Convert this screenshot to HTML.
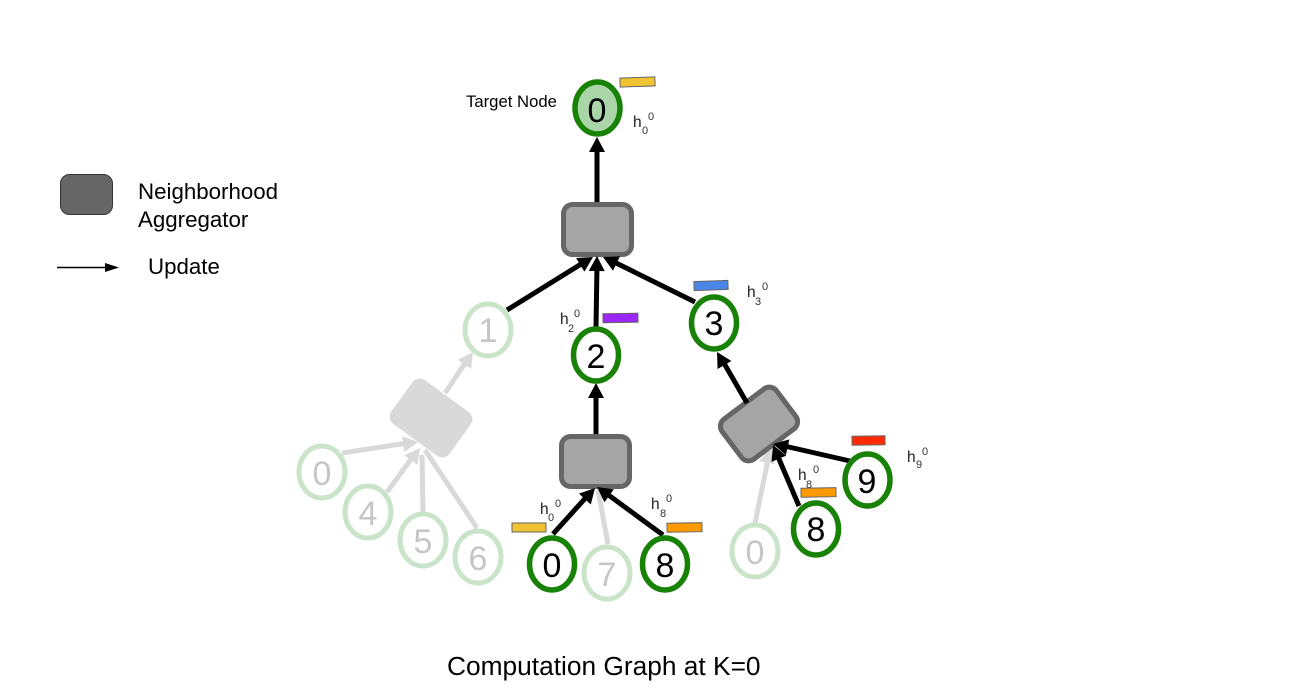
<!DOCTYPE html>
<html>
<head>
<meta charset="utf-8">
<style>
html,body{margin:0;padding:0;background:#fff;width:1289px;height:698px;overflow:hidden}
svg{display:block}
text{font-family:"Liberation Sans",sans-serif}
.n{font-size:34px;text-anchor:middle;fill:#000}
.f{font-size:34px;text-anchor:middle;fill:#c6c6c6}
.h{font-size:15.500px;fill:#222}
.s{font-size:11px;fill:#333}
</style>
</head>
<body>
<svg width="1289" height="698" viewBox="0 0 1289 698" xmlns="http://www.w3.org/2000/svg">
<defs>
<g id="ah"><polygon points="0,0 -15,8 -15,-8"/></g>
</defs>

<!-- faded edges -->
<g stroke="#d9d9d9" stroke-width="5" fill="none">
<line x1="445" y1="393" x2="470" y2="356"/>
<line x1="342" y1="453" x2="414" y2="442"/>
<line x1="387" y1="492" x2="417" y2="451"/>
<line x1="423" y1="512" x2="422" y2="455"/>
<line x1="477" y1="528" x2="425" y2="450"/>
<line x1="608" y1="544" x2="598" y2="490"/>
<line x1="755" y1="523" x2="770" y2="450"/>
</g>
<g fill="#d9d9d9">
<use href="#ah" transform="translate(473,352) rotate(-55.600)"/>
<use href="#ah" transform="translate(418,442) rotate(-8)"/>
<use href="#ah" transform="translate(420,448) rotate(-53)"/>
<use href="#ah" transform="translate(770,448) rotate(-78.700)"/>
</g>

<!-- faded aggregator -->
<rect x="395" y="391" width="72" height="54" rx="9" fill="#d9d9d9" transform="rotate(36 431 418)"/>

<!-- aggregators -->
<g fill="#a5a5a5" stroke="#666" stroke-width="5">
<rect x="563.500" y="204.500" width="68" height="50" rx="9"/>
<rect x="561.500" y="436.500" width="68" height="50" rx="9"/>
<rect x="725" y="399" width="68" height="50" rx="9" transform="rotate(-37 759 424)"/>
</g>

<!-- black edges -->
<g stroke="#000" stroke-width="5" fill="none">
<line x1="597" y1="202" x2="597" y2="145"/>
<line x1="507" y1="310" x2="586" y2="261"/>
<line x1="596" y1="327" x2="597" y2="265"/>
<line x1="695" y1="302" x2="610" y2="260"/>
<line x1="596" y1="434" x2="596" y2="390"/>
<line x1="747" y1="403" x2="721" y2="358"/>
<line x1="553" y1="534" x2="590" y2="493"/>
<line x1="663" y1="535" x2="603" y2="491"/>
<line x1="799" y1="506" x2="776" y2="452"/>
<line x1="850" y1="461" x2="780" y2="445"/>
</g>
<g fill="#000">
<use href="#ah" transform="translate(597,137) rotate(-90)"/>
<use href="#ah" transform="translate(593,257) rotate(-31.600)"/>
<use href="#ah" transform="translate(597,256) rotate(-89)"/>
<use href="#ah" transform="translate(603,257) rotate(-154)"/>
<use href="#ah" transform="translate(596,383) rotate(-90)"/>
<use href="#ah" transform="translate(717,352) rotate(-120)"/>
<use href="#ah" transform="translate(595,488) rotate(-47.600)"/>
<use href="#ah" transform="translate(597,487) rotate(-144)"/>
<use href="#ah" transform="translate(773,445) rotate(-113)"/>
<use href="#ah" transform="translate(773,444) rotate(-167.500)"/>
</g>

<!-- faded nodes -->
<g fill="#fff" stroke="#c9e4c9" stroke-width="5">
<ellipse cx="488" cy="330" rx="23" ry="26"/>
<ellipse cx="322" cy="472" rx="23" ry="26"/>
<ellipse cx="368" cy="512" rx="23" ry="26"/>
<ellipse cx="423" cy="540" rx="23" ry="26"/>
<ellipse cx="478" cy="557" rx="23" ry="26"/>
<ellipse cx="607" cy="573" rx="23" ry="26"/>
<ellipse cx="755" cy="551" rx="23" ry="26"/>
</g>
<text class="f" x="488" y="342">1</text>
<text class="f" x="322" y="485">0</text>
<text class="f" x="368" y="525">4</text>
<text class="f" x="423" y="553">5</text>
<text class="f" x="478" y="570">6</text>
<text class="f" x="607" y="586">7</text>
<text class="f" x="755" y="564">0</text>

<!-- active nodes -->
<g fill="#fff" stroke="#188207" stroke-width="5.500">
<ellipse cx="597.500" cy="108" rx="22.500" ry="26" fill="#a9d5a9"/>
<ellipse cx="596" cy="355" rx="22.500" ry="26"/>
<ellipse cx="714" cy="323" rx="22.500" ry="26"/>
<ellipse cx="552" cy="564" rx="22.500" ry="26"/>
<ellipse cx="665" cy="564" rx="22.500" ry="26"/>
<ellipse cx="816" cy="529" rx="22.500" ry="26"/>
<ellipse cx="867.500" cy="480" rx="22.500" ry="26"/>
</g>
<text class="n" x="597" y="122">0</text>
<text class="n" x="596" y="368">2</text>
<text class="n" x="714" y="335">3</text>
<text class="n" x="552" y="577">0</text>
<text class="n" x="665" y="577">8</text>
<text class="n" x="816" y="541">8</text>
<text class="n" x="867" y="493">9</text>

<!-- feature bars -->
<g stroke="#666" stroke-width="1">
<rect x="620" y="77.500" width="35" height="9" fill="#f1c232" transform="rotate(-2 637 82)"/>
<rect x="603" y="313.500" width="35" height="9" fill="#9b26f5" transform="rotate(-1 620 318)"/>
<rect x="694" y="281" width="34" height="9" fill="#4a86e8" transform="rotate(-2 711 285)"/>
<rect x="512" y="523" width="34" height="9" fill="#f1c232"/>
<rect x="667" y="523" width="35" height="9" fill="#ff9900" transform="rotate(-1 684 527)"/>
<rect x="801" y="488" width="35" height="9" fill="#ff9900" transform="rotate(-1 818 492)"/>
<rect x="852" y="436" width="33" height="9" fill="#ff2a00" transform="rotate(-1 868 440)"/>
</g>

<!-- h labels -->
<text class="h" x="633" y="127">h</text><text class="s" x="642" y="134">0</text><text class="s" x="648" y="120">0</text>
<text class="h" x="560" y="324">h</text><text class="s" x="568" y="332">2</text><text class="s" x="574" y="317">0</text>
<text class="h" x="747" y="297">h</text><text class="s" x="755" y="305">3</text><text class="s" x="762" y="290">0</text>
<text class="h" x="540" y="514">h</text><text class="s" x="548" y="521">0</text><text class="s" x="555" y="507">0</text>
<text class="h" x="651" y="509">h</text><text class="s" x="660" y="517">8</text><text class="s" x="666" y="502">0</text>
<text class="h" x="798" y="480">h</text><text class="s" x="806" y="488">8</text><text class="s" x="813" y="473">0</text>
<text class="h" x="907" y="462">h</text><text class="s" x="916" y="468">9</text><text class="s" x="922" y="455">0</text>

<text x="466" y="107" font-size="16.700" fill="#000">Target Node</text>

<!-- legend -->
<rect x="60.500" y="174.500" width="52" height="40" rx="9" fill="#666" stroke="#333" stroke-width="1"/>
<text x="138" y="199" font-size="22.300" fill="#000">Neighborhood</text>
<text x="138" y="227" font-size="22.300" fill="#000">Aggregator</text>
<line x1="57" y1="267.500" x2="108" y2="267.500" stroke="#000" stroke-width="1.500"/>
<polygon points="119,267.500 105,263 105,272" fill="#000"/>
<text x="148" y="274" font-size="22.300" fill="#000">Update</text>

<text x="447" y="675" font-size="26.300" fill="#000">Computation Graph at K=0</text>
</svg>
</body>
</html>
